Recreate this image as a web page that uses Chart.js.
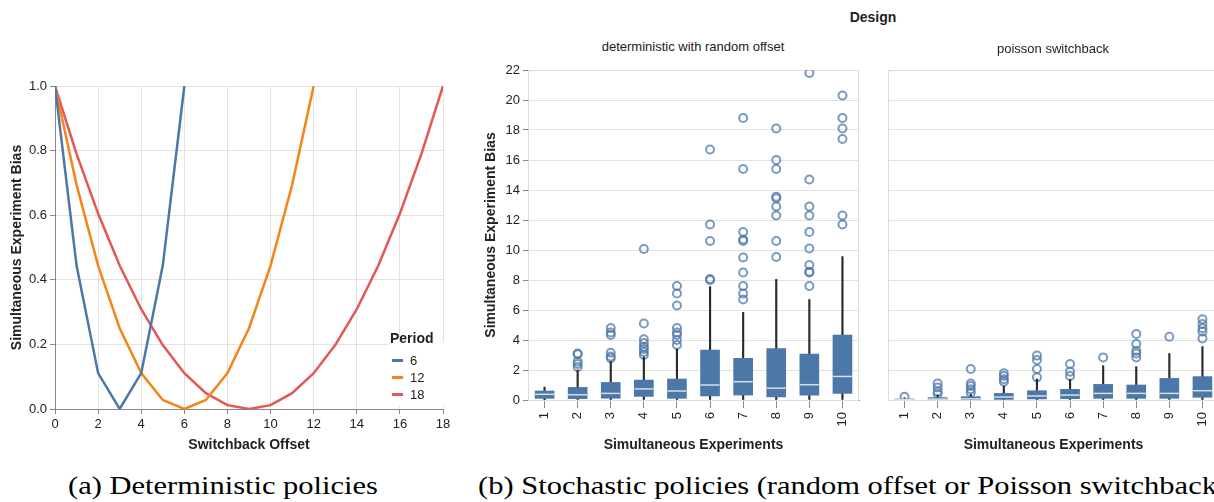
<!DOCTYPE html>
<html>
<head>
<meta charset="utf-8">
<script src="https://cdn.jsdelivr.net/npm/chart.js@4.4.1/dist/chart.umd.min.js"></script>
<style>
html, body { margin: 0; padding: 0; background: #fff; overflow: hidden; }
body { width: 1214px; height: 502px; position: relative; font-family: "Liberation Sans", Arial, sans-serif; color: #222; }
canvas, .txt { position: absolute; }
.txt { white-space: nowrap; line-height: 1; }
.center { transform: translate(-50%, -50%); }
.caption { font-family: "Liberation Serif", "DejaVu Serif", serif; font-size: 25px; color: #000; transform: scaleX(1.22); transform-origin: 0 0; }
#legend { position: absolute; left: 388px; top: 342px; width: 58px; height: 64px; background: #fff; }
.legend-title { position: absolute; left: 390px; top: 331px; font-size: 14px; font-weight: bold; }
.legend-item { position: absolute; left: 392px; font-size: 13px; height: 14px; }
.legend-item span.sw { position: absolute; left: 0; top: 6px; width: 11px; height: 2.5px; }
.legend-item span.lb { position: absolute; left: 18px; top: 0; }
</style>
</head>
<body>
<canvas id="leftChart" width="460" height="400" style="left:0;top:60px"></canvas>
<canvas id="detChart" width="400" height="405" style="left:470px;top:55px"></canvas>
<canvas id="poisChart" width="360" height="405" style="left:870px;top:55px"></canvas>

<div id="legend"></div>
<div class="txt legend-title">Period</div>
<div id="legendItems"></div>

<div class="txt center" style="left:873px;top:17px;font-size:14px;font-weight:bold">Design</div>
<div class="txt center" style="left:693px;top:46px;font-size:13px">deterministic with random offset</div>
<div class="txt center" style="left:1053px;top:48px;font-size:13px">poisson switchback</div>

<div class="txt caption" style="left:68px;top:473px">(a) Deterministic policies</div>
<div class="txt caption" style="left:478px;top:473px">(b) Stochastic policies (random offset or Poisson switchback)</div>

<script>
// panel (a): bias vs offset per period
const offsets6 = [0, 1, 2, 3, 4, 5, 6];
const bias6 = [1, 0.444, 0.111, 0, 0.111, 0.444, 1];
const offsets12 = [0, 1, 2, 3, 4, 5, 6, 7, 8, 9, 10, 11, 12];
const bias12 = [1, 0.694, 0.444, 0.25, 0.111, 0.028, 0, 0.028, 0.111, 0.25, 0.444, 0.694, 1];
const offsets18 = [0, 1, 2, 3, 4, 5, 6, 7, 8, 9, 10, 11, 12, 13, 14, 15, 16, 17, 18];
const bias18 = [1, 0.79, 0.605, 0.444, 0.309, 0.198, 0.111, 0.049, 0.012, 0, 0.012, 0.049, 0.111, 0.198, 0.309, 0.444, 0.605, 0.79, 1];
const periods = ['6', '12', '18'];
const periodColors = ['#4c78a8', '#f58518', '#e45756'];

// panel (b): box plots per number of simultaneous experiments
const experiments = ['1', '2', '3', '4', '5', '6', '7', '8', '9', '10'];

const detQ1 = [0.11, 0.09, 0.12, 0.24, 0.11, 0.27, 0.33, 0.2, 0.33, 0.44];
const detMedian = [0.38, 0.35, 0.44, 0.74, 0.6, 1.0, 1.22, 0.79, 1.02, 1.57];
const detQ3 = [0.6, 0.84, 1.17, 1.33, 1.4, 3.33, 2.78, 3.42, 3.06, 4.33];
const detWhiskerLow = [0.02, 0, 0, 0, 0, 0, 0, 0, 0, 0];
const detWhiskerHigh = [0.86, 2.0, 2.56, 2.86, 3.4, 7.56, 5.84, 8.04, 6.7, 9.56];
const detOutliers = [
  [],
  [2.2, 2.4, 2.56, 3.05, 3.1],
  [2.78, 2.9, 3.15, 4.33, 4.5, 4.8],
  [3.0, 3.2, 3.4, 3.55, 3.8, 4.05, 5.1, 10.07],
  [3.67, 4.0, 4.33, 4.5, 4.8, 6.3, 7.1, 7.6],
  [8.0, 8.07, 10.6, 11.7, 16.7],
  [6.7, 7.1, 7.6, 8.5, 9.5, 10.6, 10.7, 11.2, 15.4, 18.8],
  [9.53, 10.6, 12.3, 12.9, 13.45, 13.55, 15.4, 16.0, 18.1],
  [7.6, 8.5, 8.55, 9.0, 10.1, 11.2, 12.3, 12.9, 14.7, 21.8],
  [11.7, 12.3, 17.4, 18.1, 18.8, 20.3]
];

const poisQ1 = [0, 0, 0, 0.04, 0.07, 0.09, 0.11, 0.11, 0.11, 0.18];
const poisMedian = [0.03, 0.06, 0.08, 0.2, 0.27, 0.33, 0.44, 0.44, 0.44, 0.62];
const poisQ3 = [0.07, 0.16, 0.22, 0.44, 0.62, 0.71, 1.04, 1.0, 1.44, 1.56];
const poisWhiskerLow = [0, 0, 0, 0, 0, 0, 0, 0, 0, 0];
const poisWhiskerHigh = [0.15, 0.33, 0.38, 0.93, 1.4, 1.38, 2.29, 2.22, 3.1, 3.56];
const poisOutliers = [
  [0.22],
  [0.4, 0.56, 0.84, 1.1],
  [0.49, 0.71, 0.93, 1.1, 2.07],
  [1.22, 1.38, 1.6, 1.78],
  [1.51, 2.07, 2.67, 2.96],
  [1.6, 1.89, 2.4],
  [2.84],
  [2.84, 3.1, 3.29, 3.73, 4.4],
  [4.22],
  [4.1, 4.56, 4.78, 5.07, 5.38]
];

const tickFont = { family: 'Liberation Sans', size: 13 };
const titleFont = { family: 'Liberation Sans', size: 14, weight: 'bold' };
const axisGrey = '#888';
const gridGrey = '#e2e2e2';

// white legend with swatches built from the series
const legendItems = document.getElementById('legendItems');
periods.forEach((p, i) => {
  const item = document.createElement('div');
  item.className = 'legend-item';
  item.style.top = (353 + i * 17) + 'px';
  item.innerHTML = '<span class="sw" style="background:' + periodColors[i] + '"></span><span class="lb">' + p + '</span>';
  legendItems.appendChild(item);
});

function pairs(xs, ys) {
  return xs.map((x, i) => ({ x: x, y: ys[i] }));
}

new Chart(document.getElementById('leftChart'), {
  type: 'line',
  data: {
    datasets: [
      { label: periods[0], data: pairs(offsets6, bias6), borderColor: periodColors[0] },
      { label: periods[1], data: pairs(offsets12, bias12), borderColor: periodColors[1] },
      { label: periods[2], data: pairs(offsets18, bias18), borderColor: periodColors[2] }
    ]
  },
  options: {
    responsive: false,
    animation: false,
    events: [],
    layout: { padding: { top: 26, right: 17, left: 0, bottom: 0 } },
    elements: { point: { radius: 0 }, line: { borderWidth: 2.5, tension: 0 } },
    plugins: { legend: { display: false }, tooltip: { enabled: false } },
    scales: {
      x: {
        type: 'linear', min: 0, max: 18,
        ticks: { stepSize: 2, font: tickFont, color: '#222', padding: 3, maxRotation: 0 },
        grid: { color: gridGrey, tickColor: axisGrey, tickLength: 5 },
        border: { color: axisGrey },
        title: { display: true, text: 'Switchback Offset', font: titleFont, color: '#222', padding: { top: 0, bottom: 6 } },
        afterFit: s => { s.height = 51; }
      },
      y: {
        min: 0, max: 1,
        ticks: { stepSize: 0.2, font: tickFont, color: '#222', padding: 3, callback: v => Number(v).toFixed(1) },
        grid: { color: gridGrey, tickColor: axisGrey, tickLength: 5 },
        border: { color: axisGrey },
        title: { display: true, text: 'Simultaneous Experiment Bias', font: titleFont, color: '#222', padding: { top: 9, bottom: 0 } },
        afterFit: s => { s.width = 55; }
      }
    }
  }
});

const framePlugin = {
  id: 'frame',
  beforeDatasetsDraw(chart) {
    const a = chart.chartArea;
    const ctx = chart.ctx;
    ctx.save();
    ctx.strokeStyle = '#dddddd';
    ctx.lineWidth = 1;
    ctx.strokeRect(a.left + 0.5, a.top + 0.5, a.right - a.left - 1, a.bottom - a.top);
    ctx.restore();
  }
};

function boxChart(id, q1, med, q3, wLow, wHigh, outliers, showY) {
  const outlierPoints = [];
  outliers.forEach((vals, i) => vals.forEach(v => outlierPoints.push({ x: experiments[i], y: v })));

  const medianPlugin = {
    id: 'medians',
    afterDatasetsDraw(chart) {
      const ctx = chart.ctx;
      const x = chart.scales.x, y = chart.scales.y;
      ctx.save();
      ctx.strokeStyle = 'rgba(235,241,248,0.85)';
      ctx.lineWidth = 1.5;
      med.forEach((m, i) => {
        const px = x.getPixelForValue(i);
        const py = y.getPixelForValue(m);
        ctx.beginPath();
        ctx.moveTo(px - 9.5, py);
        ctx.lineTo(px + 9.5, py);
        ctx.stroke();
      });
      ctx.restore();
    }
  };

  return new Chart(document.getElementById(id), {
    type: 'bar',
    data: {
      labels: experiments,
      datasets: [
        { label: 'box', data: q1.map((v, i) => [v, q3[i]]), backgroundColor: '#4c78a8', barThickness: 19, grouped: false, order: 0 },
        { label: 'whisker', data: wLow.map((v, i) => [v, wHigh[i]]), backgroundColor: '#2b2b2b', barThickness: 1.5, grouped: false, order: 1 },
        {
          type: 'line', label: 'outliers', data: outlierPoints, showLine: false, order: 2,
          pointRadius: 4, pointBorderWidth: 2, pointBorderColor: 'rgba(76,120,168,0.75)', pointBackgroundColor: 'rgba(255,255,255,0)'
        }
      ]
    },
    options: {
      responsive: false,
      animation: false,
      events: [],
      layout: { padding: { top: 15, right: 11, left: 0, bottom: 0 } },
      plugins: { legend: { display: false }, tooltip: { enabled: false } },
      scales: {
        x: {
          ticks: { font: tickFont, color: '#222', padding: 4, autoSkip: false, minRotation: 90, maxRotation: 90 },
          grid: { drawOnChartArea: false, offset: false, tickColor: axisGrey, tickLength: 8 },
          border: { color: axisGrey },
          title: { display: true, text: 'Simultaneous Experiments', font: titleFont, color: '#222', padding: { top: 0, bottom: 6 } },
          afterFit: s => { s.height = 60; }
        },
        y: {
          min: 0, max: 22,
          ticks: { display: showY, stepSize: 2, font: tickFont, color: '#222', padding: 3 },
          grid: { color: gridGrey, tickColor: axisGrey, tickLength: 5, drawTicks: showY },
          border: { color: showY ? axisGrey : '#dddddd' },
          title: { display: showY, text: 'Simultaneous Experiment Bias', font: titleFont, color: '#222', padding: { top: 13, bottom: 0 } },
          afterFit: s => { s.width = showY ? 58 : 18; }
        }
      }
    },
    plugins: [framePlugin, medianPlugin]
  });
}

boxChart('detChart', detQ1, detMedian, detQ3, detWhiskerLow, detWhiskerHigh, detOutliers, true);
boxChart('poisChart', poisQ1, poisMedian, poisQ3, poisWhiskerLow, poisWhiskerHigh, poisOutliers, false);
</script>
</body>
</html>
